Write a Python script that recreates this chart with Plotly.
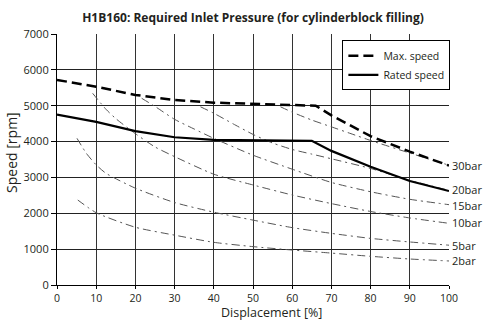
import plotly.graph_objects as go

# --- data ---
max_x = [0, 10, 20, 30, 40, 50, 60, 66, 70, 75, 80, 90, 100]
max_s = [5720, 5530, 5300, 5160, 5085, 5050, 5020, 5000, 4730, 4430, 4150, 3720, 3330]

rated_x = [0, 10, 20, 30, 40, 50, 60, 65, 70, 80, 90, 100]
rated_s = [4750, 4550, 4290, 4120, 4050, 4035, 4025, 4020, 3740, 3300, 2900, 2620]

p2_x = [5.3, 10, 20, 30, 40, 50, 60, 70, 80, 90, 100]
p2_s = [2370, 2016, 1610, 1390, 1190, 1070, 975, 890, 800, 725, 670]

p5_x = [5.1, 7.5, 10, 12.5, 20, 30, 40, 50, 60, 70, 80, 90, 100]
p5_s = [4090, 3670, 3350, 3115, 2700, 2300, 2030, 1810, 1600, 1440, 1300, 1200, 1110]

p10_x = [9.1, 12.5, 15, 20, 25, 30, 40, 50, 60, 70, 80, 90, 100]
p10_s = [5345, 4900, 4640, 4220, 3850, 3580, 3090, 2790, 2510, 2270, 2050, 1870, 1720]

p15_x = [21.6, 25, 30, 35, 40, 50, 60, 70, 80, 90, 100]
p15_s = [5207, 4980, 4620, 4350, 4090, 3620, 3230, 2860, 2600, 2390, 2240]

p20_x = [36.6, 40, 45, 50, 55, 60, 65, 70, 80, 90, 100]
p20_s = [4970, 4790, 4490, 4200, 3960, 3780, 3650, 3520, 3250, 2920, 2640]

p30_x = [57, 60, 65, 70, 75, 80, 90, 100]
p30_s = [4970, 4820, 4600, 4410, 4220, 4030, 3680, 3340]

pressure_labels = ["30bar", "20bar", "15bar", "10bar", "5bar", "2bar"]
label_speeds = [3346, 2650, 2230, 1737, 1115, 670]

x_ticks = [0, 10, 20, 30, 40, 50, 60, 70, 80, 90, 100]
y_ticks = [0, 1000, 2000, 3000, 4000, 5000, 6000, 7000]

FONT = "Open Sans"
TXT = "#231f20"

fig = go.Figure()

dd = "8px,4px,2px,4px"
for xs, ys in [(p2_x, p2_s), (p5_x, p5_s), (p10_x, p10_s), (p15_x, p15_s),
               (p20_x, p20_s), (p30_x, p30_s)]:
    fig.add_trace(go.Scatter(x=xs, y=ys, mode="lines", showlegend=False,
                             line=dict(color="#555555", width=1, dash=dd, shape="spline", smoothing=0.6),
                             hoverinfo="skip"))

fig.add_trace(go.Scatter(x=max_x, y=max_s, mode="lines", name="Max. speed",
                         line=dict(color="black", width=2.5, dash="10px,5px")))
fig.add_trace(go.Scatter(x=rated_x, y=rated_s, mode="lines", name="Rated speed",
                         line=dict(color="black", width=2.2)))

for lab, sp in zip(pressure_labels, label_speeds):
    fig.add_annotation(x=100, y=sp, xref="x", yref="y", text=lab, showarrow=False,
                       xanchor="left", yanchor="middle", xshift=1,
                       font=dict(family=FONT, size=11, color=TXT))

# axis titles as annotations so they sit where the reference puts them
fig.add_annotation(x=0.548, y=-0.146, xref="paper", yref="paper", text="Displacement [%]",
                   showarrow=False, xanchor="center", yanchor="bottom", borderpad=0,
                   font=dict(family=FONT, size=12.5, color=TXT))
fig.add_annotation(x=-0.115, y=0.53, xref="paper", yref="paper", text="Speed [rpm]",
                   showarrow=False, xanchor="center", yanchor="middle", textangle=-90,
                   font=dict(family=FONT, size=14, color=TXT))

fig.update_layout(
    width=483, height=323,
    margin=dict(l=57, r=34, t=34, b=38, autoexpand=False),
    paper_bgcolor="white", plot_bgcolor="white",
    title=dict(text="<b>H1B160: Required Inlet Pressure (for cylinderblock filling)</b>",
               x=0.5, xref="paper", xanchor="center", y=0.945, yanchor="middle",
               font=dict(family=FONT, size=12, color=TXT)),
    font=dict(family=FONT, color=TXT),
    legend=dict(x=0.728, y=0.975, xanchor="left", yanchor="top",
                bgcolor="white", bordercolor="black", borderwidth=1,
                font=dict(family=FONT, size=10.5, color=TXT),
                tracegroupgap=0, itemwidth=30),
)

fig.update_xaxes(range=[0, 100], tickvals=x_ticks, ticktext=[str(v) for v in x_ticks],
                 automargin=False,
                 showgrid=True, gridcolor="#333333", gridwidth=1.2,
                 showline=True, linecolor="black", linewidth=1.2, mirror=False,
                 ticks="outside", ticklen=3, tickcolor="black",
                 tickfont=dict(family=FONT, size=10.5, color=TXT),
                 zeroline=False)
fig.update_yaxes(range=[0, 7000], tickvals=y_ticks, ticktext=[str(v) for v in y_ticks],
                 automargin=False,
                 showgrid=True, gridcolor="#222222", gridwidth=1.2,
                 showline=True, linecolor="black", linewidth=1.2,
                 ticks="outside", ticklen=5, tickcolor="black",
                 tickfont=dict(family=FONT, size=11, color=TXT),
                 zeroline=False)

fig.write_html("out.html")
